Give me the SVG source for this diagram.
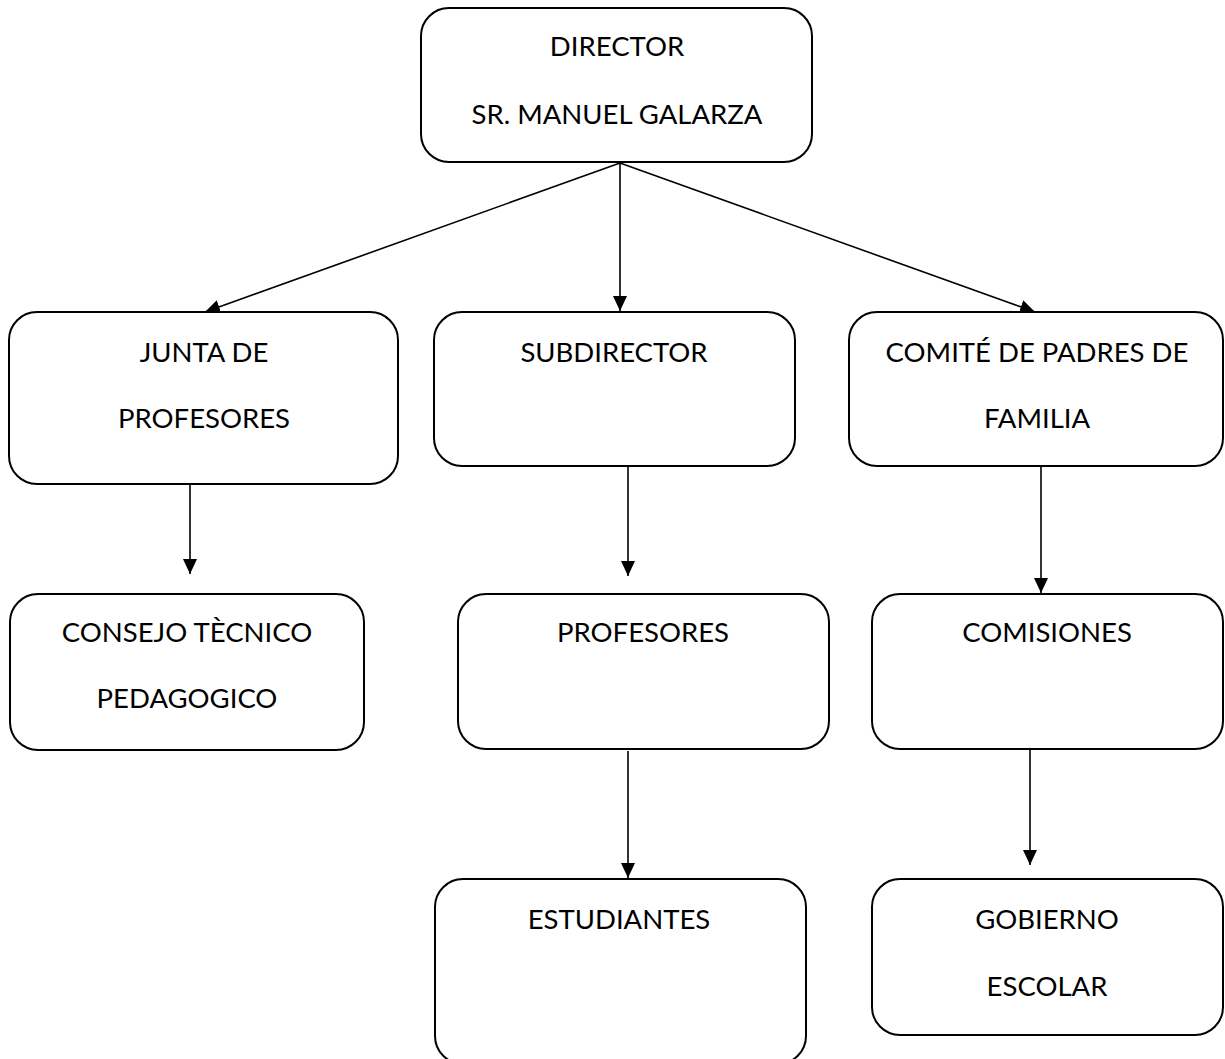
<svg xmlns="http://www.w3.org/2000/svg" width="1225" height="1059" viewBox="0 0 1225 1059">
<style>
.box{fill:#fff;stroke:#000;stroke-width:2}
.t{font-family:Lato,"Liberation Sans",sans-serif;font-size:27.5px;fill:#000;text-anchor:middle}
.c{stroke:#000;stroke-width:1.6;fill:none;marker-end:url(#ah)}
</style>
<defs>
<marker id="ah" markerUnits="userSpaceOnUse" markerWidth="16" markerHeight="14" refX="15" refY="7" orient="auto">
<path d="M0,0 L15,7 L0,14 z" fill="#000"/>
</marker>
</defs>
<rect width="1225" height="1059" fill="#fff"/>
<g id="connectors">
<line class="c" x1="620" y1="163" x2="205" y2="312"/>
<line class="c" x1="620" y1="163" x2="620" y2="311"/>
<line class="c" x1="620" y1="163" x2="1035" y2="312"/>
<line class="c" x1="190" y1="485" x2="190" y2="574"/>
<line class="c" x1="628" y1="467" x2="628" y2="576"/>
<line class="c" x1="1041" y1="467" x2="1041" y2="593"/>
<line class="c" x1="628" y1="751" x2="628" y2="878"/>
<line class="c" x1="1030" y1="738" x2="1030" y2="865"/>
</g>
<g id="director">
<rect class="box" x="421" y="8" width="391" height="154" rx="28"/>
<text class="t" x="617" y="56">DIRECTOR</text>
<text class="t" x="617" y="124">SR. MANUEL GALARZA</text>
</g>
<g id="junta">
<rect class="box" x="9" y="312" width="389" height="172" rx="28"/>
<text class="t" x="204" y="362">JUNTA DE</text>
<text class="t" x="204" y="428">PROFESORES</text>
</g>
<g id="subdirector">
<rect class="box" x="434" y="312" width="361" height="154" rx="28"/>
<text class="t" x="614" y="362">SUBDIRECTOR</text>
</g>
<g id="comite">
<rect class="box" x="849" y="312" width="374" height="154" rx="28"/>
<text class="t" x="1037" y="362">COMITÉ DE PADRES DE</text>
<text class="t" x="1037" y="428">FAMILIA</text>
</g>
<g id="consejo">
<rect class="box" x="10" y="594" width="354" height="156" rx="28"/>
<text class="t" x="187" y="642">CONSEJO TÈCNICO</text>
<text class="t" x="187" y="708">PEDAGOGICO</text>
</g>
<g id="profesores">
<rect class="box" x="458" y="594" width="371" height="155" rx="28"/>
<text class="t" x="643" y="642">PROFESORES</text>
</g>
<g id="comisiones">
<rect class="box" x="872" y="594" width="351" height="155" rx="28"/>
<text class="t" x="1047" y="642">COMISIONES</text>
</g>
<g id="estudiantes">
<rect class="box" x="435" y="879" width="371" height="185" rx="28"/>
<text class="t" x="619" y="929">ESTUDIANTES</text>
</g>
<g id="gobierno">
<rect class="box" x="872" y="879" width="351" height="156" rx="28"/>
<text class="t" x="1047" y="929">GOBIERNO</text>
<text class="t" x="1047" y="996">ESCOLAR</text>
</g>
</svg>
